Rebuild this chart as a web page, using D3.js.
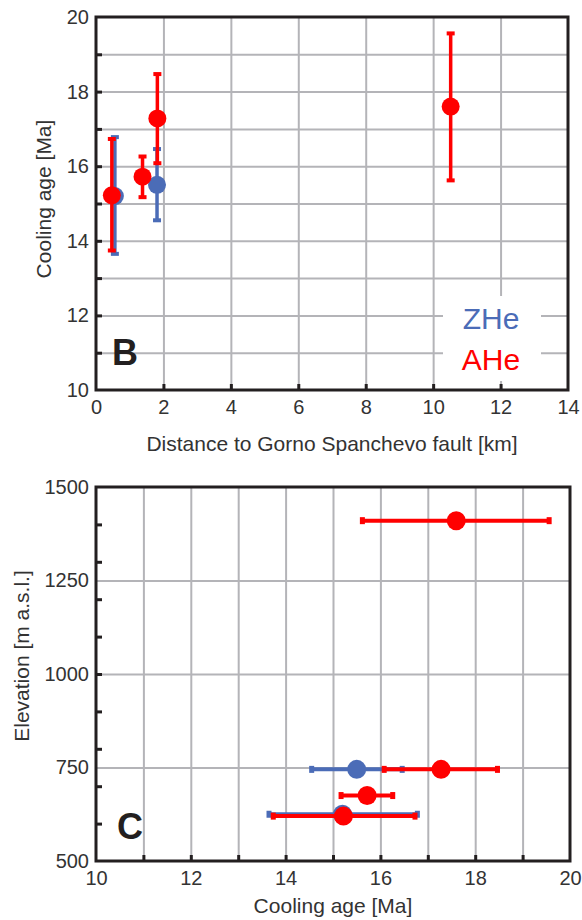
<!DOCTYPE html>
<html>
<head>
<meta charset="utf-8">
<script src="https://cdn.jsdelivr.net/npm/d3@7"></script>
<style>
  body { margin: 0; background: #fff; }
  text { font-family: "Liberation Sans", Arial, Helvetica, sans-serif; }
</style>
</head>
<body>
<script>
// ZHe samples
const zheDist = [0.56, 1.81];
const zheAge = [15.2, 15.5];
const zheLo = [13.65, 14.55];
const zheHi = [16.78, 16.46];
const zheElev = [625, 745];

// AHe samples
const aheDist = [0.47, 1.38, 1.82, 10.52];
const aheAge = [15.22, 15.72, 17.28, 17.6];
const aheLo = [13.74, 15.17, 16.08, 15.62];
const aheHi = [16.73, 16.26, 18.47, 19.56];
const aheElev = [620, 675, 745, 1410];

const topXLabels = [0, 2, 4, 6, 8, 10, 12, 14];
const topYLabels = [10, 12, 14, 16, 18, 20];
const botXLabels = [10, 12, 14, 16, 18, 20];
const botYLabels = [500, 750, 1000, 1250, 1500];

const BLUE = "#4b6cb7", RED = "#ff0000";
const GRID = "#b4b4b8", FRAME = "#231f20", TXT = "#333";

const svg = d3.select("body").append("svg")
  .attr("width", 582).attr("height", 920);

const zhe = zheDist.map((d, i) => ({dist: d, age: zheAge[i], lo: zheLo[i], hi: zheHi[i], elev: zheElev[i]}));
const ahe = aheDist.map((d, i) => ({dist: d, age: aheAge[i], lo: aheLo[i], hi: aheHi[i], elev: aheElev[i]}));

function panel(p) {
  const g = svg.append("g");
  const x = d3.scaleLinear().domain(p.xDomain).range([p.left, p.right]);
  const y = d3.scaleLinear().domain(p.yDomain).range([p.bottom, p.top]);
  const w = p.right - p.left, h = p.bottom - p.top;

  // grid
  g.append("g").attr("transform", `translate(0,${p.bottom})`)
    .call(d3.axisBottom(x).tickValues(p.xGrid).tickSize(-h).tickFormat(""))
    .call(a => a.select(".domain").remove())
    .selectAll("line").attr("stroke", GRID).attr("stroke-width", 2);
  g.append("g").attr("transform", `translate(${p.left},0)`)
    .call(d3.axisLeft(y).tickValues(p.yGrid).tickSize(-w).tickFormat(""))
    .call(a => a.select(".domain").remove())
    .selectAll("line").attr("stroke", GRID).attr("stroke-width", 2);

  // legend box (covers grid)
  if (p.legend) {
    g.append("rect").attr("x", 443).attr("y", 296).attr("width", 98).attr("height", 85).attr("fill", "#fff");
  }

  // inner ticks
  g.append("g").attr("transform", `translate(0,${p.bottom})`)
    .call(d3.axisBottom(x).tickValues(p.xTicks).tickSize(-6).tickFormat(""))
    .call(a => a.select(".domain").remove())
    .selectAll("line").attr("stroke", FRAME).attr("stroke-width", 3);
  g.append("g").attr("transform", `translate(${p.left},0)`)
    .call(d3.axisLeft(y).tickValues(p.yTicks).tickSize(-6).tickFormat(""))
    .call(a => a.select(".domain").remove())
    .selectAll("line").attr("stroke", FRAME).attr("stroke-width", 3);

  // tick labels
  g.append("g").attr("transform", `translate(0,${p.bottom})`)
    .call(d3.axisBottom(x).tickValues(p.xLabels).tickSize(0).tickPadding(0).tickFormat(d3.format("d")))
    .call(a => a.select(".domain").remove())
    .selectAll("text").attr("y", p.xLabelDy).attr("dy", "0.35em")
    .style("font-size", "20px").style("fill", TXT)
    .style("font-family", '"Liberation Sans", Arial, sans-serif');
  g.append("g").attr("transform", `translate(${p.left},0)`)
    .call(d3.axisLeft(y).tickValues(p.yLabels).tickSize(0).tickPadding(7).tickFormat(d3.format("d")))
    .call(a => a.select(".domain").remove())
    .selectAll("text").style("font-size", "20px").style("fill", TXT)
    .style("font-family", '"Liberation Sans", Arial, sans-serif');

  // frame
  g.append("rect").attr("x", p.left).attr("y", p.top).attr("width", w).attr("height", h)
    .attr("fill", "none").attr("stroke", FRAME).attr("stroke-width", 3);

  // axis titles
  g.append("text").attr("x", (p.left + p.right) / 2).attr("y", p.xTitleY)
    .attr("text-anchor", "middle").style("font-size", "21px").style("fill", TXT).text(p.xTitle);
  g.append("text").attr("transform", `translate(${p.yTitleX},${p.yTitleMid}) rotate(-90)`)
    .attr("text-anchor", "middle").style("font-size", "21px").style("fill", TXT).text(p.yTitle);

  // panel letter
  g.append("text").attr("x", p.letterX).attr("y", p.letterY)
    .style("font-size", "36px").style("font-weight", "bold").style("fill", FRAME).text(p.letter);

  return {g, x, y};
}

function errorsVertical(g, x, y, data, color) {
  const s = g.append("g");
  s.selectAll("line.bar").data(data).join("line")
    .attr("x1", d => x(d.dist)).attr("x2", d => x(d.dist))
    .attr("y1", d => y(d.lo)).attr("y2", d => y(d.hi))
    .attr("stroke", color).attr("stroke-width", 3.5);
  ["lo", "hi"].forEach(k => {
    s.selectAll("rect.cap" + k).data(data).join("rect")
      .attr("x", d => x(d.dist) - 4).attr("y", d => y(d[k]) - 2)
      .attr("width", 8).attr("height", 4).attr("fill", color);
  });
  s.selectAll("circle").data(data).join("circle")
    .attr("cx", d => x(d.dist)).attr("cy", d => y(d.age)).attr("r", 9)
    .attr("fill", color);
}

function errorsHorizontal(g, x, y, data, color) {
  const s = g.append("g");
  s.selectAll("line.bar").data(data).join("line")
    .attr("x1", d => x(d.lo)).attr("x2", d => x(d.hi))
    .attr("y1", d => y(d.elev)).attr("y2", d => y(d.elev))
    .attr("stroke", color).attr("stroke-width", 4);
  ["lo", "hi"].forEach(k => {
    s.selectAll("rect.cap" + k).data(data).join("rect")
      .attr("x", d => x(d[k]) - 2.5).attr("y", d => y(d.elev) - 3.5)
      .attr("width", 5).attr("height", 7).attr("fill", color);
  });
  s.selectAll("circle").data(data).join("circle")
    .attr("cx", d => x(d.age)).attr("cy", d => y(d.elev)).attr("r", 9.5)
    .attr("fill", color);
}

// Panel B
const B = panel({
  left: 96, right: 568, top: 17, bottom: 390,
  xDomain: [0, 14], yDomain: [10, 20],
  xGrid: d3.range(2, 14, 2), yGrid: d3.range(11, 20, 1),
  xTicks: d3.range(2, 14, 2), yTicks: d3.range(11, 20, 1),
  xLabels: topXLabels, yLabels: topYLabels, xLabelDy: 17,
  xTitle: "Distance to Gorno Spanchevo fault [km]", xTitleY: 451,
  yTitle: "Cooling age [Ma]", yTitleX: 51, yTitleMid: 199,
  letter: "B", letterX: 112, letterY: 365, legend: true
});
errorsVertical(B.g, B.x, B.y, zhe, BLUE);
errorsVertical(B.g, B.x, B.y, ahe, RED);
B.g.append("text").attr("x", 491).attr("y", 329).attr("text-anchor", "middle")
  .style("font-size", "30px").style("fill", BLUE).text("ZHe");
B.g.append("text").attr("x", 491).attr("y", 370).attr("text-anchor", "middle")
  .style("font-size", "30px").style("fill", RED).text("AHe");

// Panel C
const C = panel({
  left: 96, right: 570, top: 487, bottom: 861,
  xDomain: [10, 20], yDomain: [500, 1500],
  xGrid: d3.range(11, 20, 1), yGrid: [750, 1000, 1250],
  xTicks: d3.range(11, 20, 1), yTicks: d3.range(600, 1500, 100),
  xLabels: botXLabels, yLabels: botYLabels, xLabelDy: 17,
  xTitle: "Cooling age [Ma]", xTitleY: 913,
  yTitle: "Elevation [m a.s.l.]", yTitleX: 29, yTitleMid: 656,
  letter: "C", letterX: 117, letterY: 839, legend: false
});
errorsHorizontal(C.g, C.x, C.y, zhe, BLUE);
errorsHorizontal(C.g, C.x, C.y, ahe, RED);
</script>
</body>
</html>
